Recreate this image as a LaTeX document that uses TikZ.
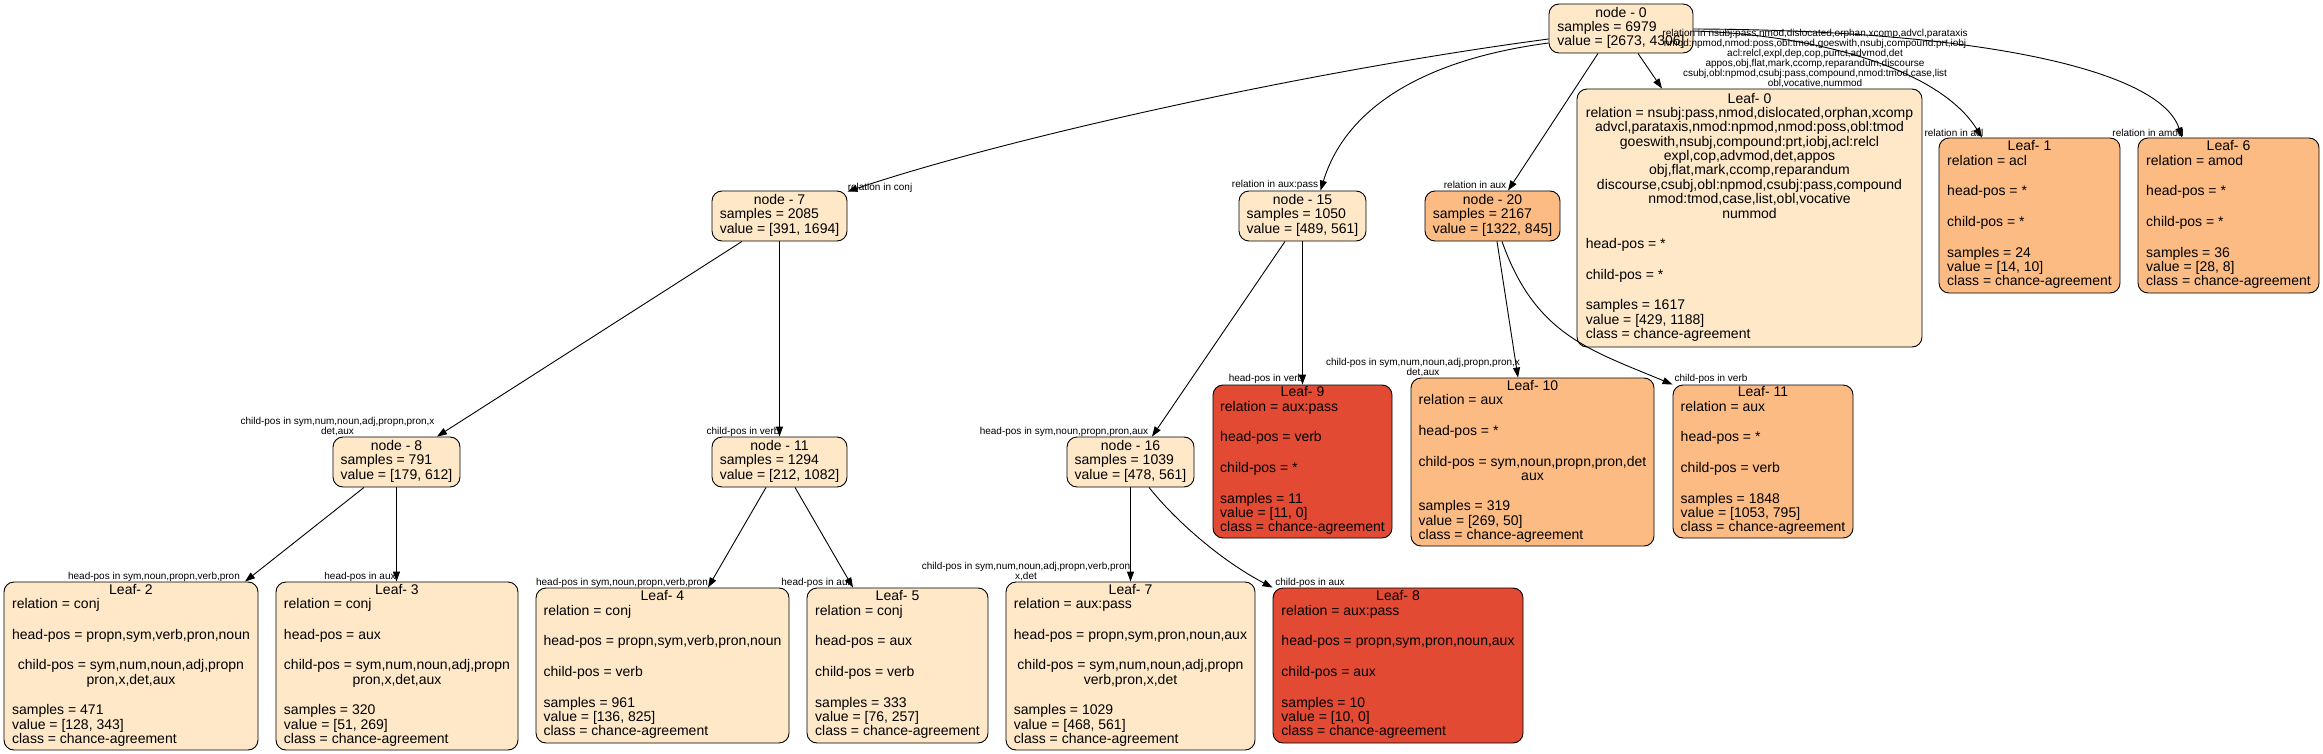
\documentclass[tikz,border=0pt]{standalone}
\usepackage{fontspec}
\setmainfont{Liberation Sans}
\usetikzlibrary{arrows.meta,calc}
\definecolor{cLight}{HTML}{FEE8C8}
\definecolor{cMid}{HTML}{FDBB84}
\definecolor{cRed}{HTML}{E34A33}
\newcommand{\ctr}[1]{\multicolumn{1}{@{}c@{}}{#1}}
\newcommand{\bl}{\\[2.3pt]\\}
\newenvironment{txt}{\begin{tabular}{@{}l@{}}}{\end{tabular}}
\tikzset{
  box/.style={draw=black, line width=0.9pt, rounded corners=10pt, inner sep=0pt,
    font=\fontsize{14}{14}\selectfont},
  lightbox/.style={box, fill=cLight},
  midbox/.style={box, fill=cMid},
  redbox/.style={box, fill=cRed},
  dnode/.style={minimum height=50pt},
  edge/.style={draw=black, line width=0.9pt, -{Triangle[length=10pt,width=7pt]}},
  elab/.style={font=\fontsize{10}{10}\selectfont, inner sep=0pt, align=center},
}
\begin{document}
\begin{tikzpicture}[x=1pt,y=-1pt]
\path[use as bounding box, fill=white] (0,0) rectangle (2323,754);

% decision nodes
\node[lightbox, minimum width=144pt, minimum height=49pt] (n0) at (1621,28.5)
  {\begin{txt}\ctr{node - 0}\\samples = 6979\\value = [2673, 4306]\end{txt}};
\node[lightbox, dnode, minimum width=135pt] (n7) at (779.5,216)
  {\begin{txt}\ctr{node - 7}\\samples = 2085\\value = [391, 1694]\end{txt}};
\node[lightbox, dnode, minimum width=127pt] (n15) at (1302.5,216)
  {\begin{txt}\ctr{node - 15}\\samples = 1050\\value = [489, 561]\end{txt}};
\node[midbox, dnode, minimum width=135pt] (n20) at (1492.5,216)
  {\begin{txt}\ctr{node - 20}\\samples = 2167\\value = [1322, 845]\end{txt}};
\node[lightbox, dnode, minimum width=127pt] (n8) at (396.5,462)
  {\begin{txt}\ctr{node - 8}\\samples = 791\\value = [179, 612]\end{txt}};
\node[lightbox, dnode, minimum width=135pt] (n11) at (779.5,462)
  {\begin{txt}\ctr{node - 11}\\samples = 1294\\value = [212, 1082]\end{txt}};
\node[lightbox, dnode, minimum width=127pt] (n16) at (1130.5,462)
  {\begin{txt}\ctr{node - 16}\\samples = 1039\\value = [478, 561]\end{txt}};

% leaves
\node[lightbox, minimum width=345pt, minimum height=258pt] (l0) at (1749.5,218)
  {\begin{txt}\ctr{Leaf- 0}\\
  \ctr{relation = nsubj:pass,nmod,dislocated,orphan,xcomp}\\
  \ctr{advcl,parataxis,nmod:npmod,nmod:poss,obl:tmod}\\
  \ctr{goeswith,nsubj,compound:prt,iobj,acl:relcl}\\
  \ctr{expl,cop,advmod,det,appos}\\
  \ctr{obj,flat,mark,ccomp,reparandum}\\
  \ctr{discourse,csubj,obl:npmod,csubj:pass,compound}\\
  \ctr{nmod:tmod,case,list,obl,vocative}\\
  \ctr{nummod}\bl
  head-pos = *\bl
  child-pos = *\bl
  samples = 1617\\value = [429, 1188]\\class = chance-agreement\end{txt}};
\node[midbox, minimum width=181pt, minimum height=155pt] (l1) at (2029.5,215.5)
  {\begin{txt}\ctr{Leaf- 1}\\relation = acl\bl head-pos = *\bl child-pos = *\bl
  samples = 24\\value = [14, 10]\\class = chance-agreement\end{txt}};
\node[midbox, minimum width=181pt, minimum height=155pt] (l6) at (2228.5,215.5)
  {\begin{txt}\ctr{Leaf- 6}\\relation = amod\bl head-pos = *\bl child-pos = *\bl
  samples = 36\\value = [28, 8]\\class = chance-agreement\end{txt}};
\node[redbox, minimum width=179pt, minimum height=153pt] (l9) at (1302.5,461.5)
  {\begin{txt}\ctr{Leaf- 9}\\relation = aux:pass\bl head-pos = verb\bl child-pos = *\bl
  samples = 11\\value = [11, 0]\\class = chance-agreement\end{txt}};
\node[midbox, minimum width=243pt, minimum height=168pt] (l10) at (1532.5,462)
  {\begin{txt}\ctr{Leaf- 10}\\relation = aux\bl head-pos = *\bl
  \ctr{child-pos = sym,noun,propn,pron,det}\\\ctr{aux}\bl
  samples = 319\\value = [269, 50]\\class = chance-agreement\end{txt}};
\node[midbox, minimum width=180pt, minimum height=153pt] (l11) at (1763,461.5)
  {\begin{txt}\ctr{Leaf- 11}\\relation = aux\bl head-pos = *\bl child-pos = verb\bl
  samples = 1848\\value = [1053, 795]\\class = chance-agreement\end{txt}};
\node[lightbox, minimum width=254pt, minimum height=168pt] (l2) at (131,666)
  {\begin{txt}\ctr{Leaf- 2}\\relation = conj\bl head-pos = propn,sym,verb,pron,noun\bl
  \ctr{child-pos = sym,num,noun,adj,propn}\\\ctr{pron,x,det,aux}\bl
  samples = 471\\value = [128, 343]\\class = chance-agreement\end{txt}};
\node[lightbox, minimum width=242pt, minimum height=168pt] (l3) at (397,666)
  {\begin{txt}\ctr{Leaf- 3}\\relation = conj\bl head-pos = aux\bl
  \ctr{child-pos = sym,num,noun,adj,propn}\\\ctr{pron,x,det,aux}\bl
  samples = 320\\value = [51, 269]\\class = chance-agreement\end{txt}};
\node[lightbox, minimum width=253pt, minimum height=155pt] (l4) at (662.5,665.5)
  {\begin{txt}\ctr{Leaf- 4}\\relation = conj\bl head-pos = propn,sym,verb,pron,noun\bl
  child-pos = verb\bl
  samples = 961\\value = [136, 825]\\class = chance-agreement\end{txt}};
\node[lightbox, minimum width=181pt, minimum height=155pt] (l5) at (897.5,665.5)
  {\begin{txt}\ctr{Leaf- 5}\\relation = conj\bl head-pos = aux\bl child-pos = verb\bl
  samples = 333\\value = [76, 257]\\class = chance-agreement\end{txt}};
\node[lightbox, minimum width=249pt, minimum height=168pt] (l7) at (1130.5,666)
  {\begin{txt}\ctr{Leaf- 7}\\relation = aux:pass\bl head-pos = propn,sym,pron,noun,aux\bl
  \ctr{child-pos = sym,num,noun,adj,propn}\\\ctr{verb,pron,x,det}\bl
  samples = 1029\\value = [468, 561]\\class = chance-agreement\end{txt}};
\node[redbox, minimum width=250pt, minimum height=155pt] (l8) at (1398,665.5)
  {\begin{txt}\ctr{Leaf- 8}\\relation = aux:pass\bl head-pos = propn,sym,pron,noun,aux\bl
  child-pos = aux\bl
  samples = 10\\value = [10, 0]\\class = chance-agreement\end{txt}};

% edges
\draw[edge] ($(n0.west)+(0,10.5)$) .. controls (1300,72) and (1000,140) .. ($(n7.north east)+(0,1)$);
\draw[edge] ($(n0.west)+(0,14.5)$) .. controls (1420,60) and (1345,110) .. ($(n15.north)+(18,0)$);
\draw[edge] ($(n0.south)+(-23,0)$) -- ($(n20.north)+(15.5,0)$);
\draw[edge] ($(n0.south)+(17,0)$) -- ($(l0.north)+(-87.5,0)$);
\draw[edge] ($(n0.east)+(0,2.5)$) .. controls (1820,35) and (1940,70) .. ($(l1.north)+(-47.5,0)$);
\draw[edge] ($(n0.east)+(0,0.5)$) .. controls (1980,30) and (2160,70) .. ($(l6.north)+(-46.5,0)$);
\draw[edge] ($(n7.south)+(-37.5,0)$) -- ($(n8.north)+(40.5,0)$);
\draw[edge] (n7.south) -- (n11.north);
\draw[edge] ($(n8.south)+(-32.5,0)$) -- ($(l2.north)+(114,0)$);
\draw[edge] (n8.south) -- ($(l3.north)+(-0.5,0)$);
\draw[edge] ($(n11.south)+(-13.5,0)$) -- ($(l4.north)+(45.5,0)$);
\draw[edge] ($(n11.south)+(15.5,0)$) -- ($(l5.north)+(-44.5,0)$);
\draw[edge] ($(n15.south)+(-17.5,0)$) -- ($(n16.north)+(21.5,0)$);
\draw[edge] (n15.south) -- (l9.north);
\draw[edge] ($(n20.south)+(4.5,0)$) -- ($(l10.north)+(-14.5,0)$);
\draw[edge] ($(n20.south)+(9.5,0)$) .. controls (1535,335) and (1590,350) .. (l11.north west);
\draw[edge] (n16.south) -- (l7.north);
\draw[edge] ($(n16.south)+(18.5,0)$) .. controls (1175,520) and (1220,560) .. (l8.north west);

% edge labels
\node[elab] (e1) at (880,188) {relation in conj};
\node[elab] (e2) at (1275,185) {relation in aux:pass};
\node[elab] (e3) at (1475,185) {relation in aux};
\node[elab] (e4) at (1815,59) {relation in nsubj:pass,nmod,dislocated,orphan,xcomp,advcl,parataxis\\
  nmod:npmod,nmod:poss,obl:tmod,goeswith,nsubj,compound:prt,iobj\\
  acl:relcl,expl,dep,cop,punct,advmod,det\\
  appos,obj,flat,mark,ccomp,reparandum,discourse\\
  csubj,obl:npmod,csubj:pass,compound,nmod:tmod,case,list\\
  obl,vocative,nummod};
\node[elab] (e5) at (1954,133) {relation in acl};
\node[elab] (e6) at (2148,133) {relation in amod};
\node[elab] (e7) at (337.5,427) {child-pos in sym,num,noun,adj,propn,pron,x\\det,aux};
\node[elab] (e8) at (743,432) {child-pos in verb};
\node[elab] (e9) at (154,577) {head-pos in sym,noun,propn,verb,pron};
\node[elab] (e10) at (360,577) {head-pos in aux};
\node[elab] (e11) at (622,583) {head-pos in sym,noun,propn,verb,pron};
\node[elab] (e12) at (817,583) {head-pos in aux};
\node[elab] (e13) at (1064,432) {head-pos in sym,noun,propn,pron,aux};
\node[elab] (e14) at (1266,379) {head-pos in verb};
\node[elab] (e15) at (1423,368) {child-pos in sym,num,noun,adj,propn,pron,x\\det,aux};
\node[elab] (e16) at (1711,379) {child-pos in verb};
\node[elab] (e17) at (1026,572) {child-pos in sym,num,noun,adj,propn,verb,pron\\x,det};
\node[elab] (e18) at (1310,583) {child-pos in aux};
\end{tikzpicture}
\end{document}
